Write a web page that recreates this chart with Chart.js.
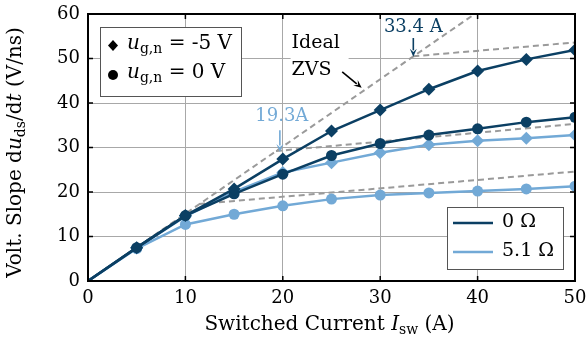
<!DOCTYPE html>
<html>
<head>
<meta charset="utf-8">
<script src="https://cdn.jsdelivr.net/npm/chart.js@4/dist/chart.umd.min.js"></script>
<style>
  html, body { margin: 0; padding: 0; background: #fff; }
  #wrap { width: 586px; height: 345px; }
</style>
</head>
<body>
<div id="wrap"><canvas id="c" width="586" height="345"></canvas></div>
<script>
// ---- data ----
const currents = [0, 5, 10, 15, 20, 25, 30, 35, 40, 45, 50];
const dark_m5V = [0, 7.5, 14.7, 20.7, 27.4, 33.7, 38.4, 43.1, 47.2, 49.8, 51.9];   // 0 Ohm, ug,n = -5 V
const dark_0V  = [0, 7.5, 14.7, 19.6, 24.0, 28.2, 30.9, 32.8, 34.2, 35.7, 36.8];   // 0 Ohm, ug,n = 0 V
const light_m5V = [0, 7.4, 14.5, 20.0, 24.4, 26.6, 28.8, 30.6, 31.5, 32.1, 32.8];  // 5.1 Ohm, -5 V
const light_0V  = [0, 7.3, 12.7, 15.0, 16.9, 18.4, 19.3, 19.8, 20.2, 20.7, 21.3];  // 5.1 Ohm, 0 V
const idealX = [0, 39.7];
const idealY = [0, 60];
const sat1X = [11.4, 50]; const sat1Y = [17.3, 24.6];
const sat2X = [19.3, 50]; const sat2Y = [29.2, 35.3];
const sat3X = [33.4, 50]; const sat3Y = [50.5, 53.6];
const xTicks = [0, 10, 20, 30, 40, 50];
const yTicks = [0, 10, 20, 30, 40, 50, 60];

const DARK = '#0b3f63';
const LIGHT = '#72a9d6';
const GRAY = '#9a9a9a';
const FONT = 'DejaVu Serif';
const FS = 18;

const pts = (xs, ys) => xs.map((x, i) => ({x: x, y: ys[i]}));
const radii = (r) => currents.map((c, i) => i === 0 ? 0 : r);

function dataLine(label, ys, color, style, r) {
  return {
    label, data: pts(currents, ys), borderColor: color, backgroundColor: color,
    borderWidth: 2.5, pointStyle: style, pointRadius: radii(r), pointBorderWidth: 0,
    pointHoverRadius: 0, tension: 0, fill: false
  };
}
function dashLine(xs, ys) {
  return {
    label: 'dash', data: pts(xs, ys), borderColor: GRAY, borderWidth: 2,
    borderDash: [6, 4], pointRadius: 0, tension: 0, fill: false
  };
}

function drawRuns(ctx, runs, x, y, align, fs) {
  fs = fs || FS;
  let total = 0;
  const sized = runs.map(r => {
    const size = r.sub ? Math.round(fs * 0.68) : fs;
    const font = (r.style === 'italic' ? 'italic ' : '') + size + 'px "' + FONT + '"';
    ctx.font = font;
    const w = ctx.measureText(r.t).width;
    total += w;
    return {t: r.t, font, w, dy: r.sub ? fs * 0.28 : 0};
  });
  let cx = align === 'center' ? x - total / 2 : x;
  ctx.textBaseline = 'middle';
  ctx.textAlign = 'left';
  sized.forEach(s => {
    ctx.font = s.font;
    ctx.fillText(s.t, cx, y + s.dy);
    cx += s.w;
  });
  return total;
}

function arrow(ctx, x1, y1, x2, y2, color) {
  const ang = Math.atan2(y2 - y1, x2 - x1);
  const hl = 8, hw = 3.5;
  ctx.save();
  ctx.strokeStyle = color; ctx.fillStyle = color; ctx.lineWidth = 1.6;
  ctx.beginPath();
  ctx.moveTo(x1, y1);
  ctx.lineTo(x2 - Math.cos(ang) * hl * 0.8, y2 - Math.sin(ang) * hl * 0.8);
  ctx.stroke();
  ctx.beginPath();
  ctx.moveTo(x2, y2);
  ctx.lineTo(x2 - Math.cos(ang) * hl - Math.sin(ang) * hw, y2 - Math.sin(ang) * hl + Math.cos(ang) * hw);
  ctx.lineTo(x2 - Math.cos(ang) * hl * 0.6, y2 - Math.sin(ang) * hl * 0.6);
  ctx.lineTo(x2 - Math.cos(ang) * hl + Math.sin(ang) * hw, y2 - Math.sin(ang) * hl - Math.cos(ang) * hw);
  ctx.closePath();
  ctx.fill();
  ctx.restore();
}

const decor = {
  id: 'decor',
  beforeDraw(chart) {
    const ctx = chart.ctx;
    ctx.save();
    ctx.fillStyle = '#fff';
    ctx.fillRect(0, 0, chart.width, chart.height);
    ctx.restore();
  },
  afterDatasetsDraw(chart) {
    const ctx = chart.ctx;
    const a = chart.chartArea;
    const xs = chart.scales.x, ys = chart.scales.y;
    const X = v => xs.getPixelForValue(v), Y = v => ys.getPixelForValue(v);
    ctx.save();
    // frame
    ctx.strokeStyle = '#000';
    ctx.lineWidth = 2;
    ctx.strokeRect(a.left, a.top, a.right - a.left, a.bottom - a.top);
    // inward ticks
    ctx.lineWidth = 1.5;
    xTicks.forEach(v => {
      const px = X(v);
      ctx.beginPath();
      ctx.moveTo(px, a.bottom); ctx.lineTo(px, a.bottom - 5);
      ctx.moveTo(px, a.top); ctx.lineTo(px, a.top + 5);
      ctx.stroke();
    });
    yTicks.forEach(v => {
      const py = Y(v);
      ctx.beginPath();
      ctx.moveTo(a.left, py); ctx.lineTo(a.left + 5, py);
      ctx.moveTo(a.right, py); ctx.lineTo(a.right - 5, py);
      ctx.stroke();
    });

    // ---- annotations ----
    ctx.fillStyle = '#fff';
    ctx.fillRect(X(20.8), Y(58.6), 58, 48);
    ctx.fillStyle = '#000';
    drawRuns(ctx, [{t: 'Ideal'}], X(20.9), Y(53.4), 'left', 19);
    drawRuns(ctx, [{t: 'ZVS'}], X(20.9), Y(47.4), 'left', 19);
    arrow(ctx, X(26.1), Y(47.0), X(28.1), Y(43.4), '#000');

    ctx.fillStyle = DARK;
    drawRuns(ctx, [{t: '33.4 A'}], X(33.4), Y(57.1), 'center');
    arrow(ctx, X(33.4), Y(54.6), X(33.4), Y(50.4), DARK);

    ctx.fillStyle = LIGHT;
    drawRuns(ctx, [{t: '19.3A'}], X(19.9), Y(36.9), 'center');
    arrow(ctx, X(19.7), Y(33.9), X(19.7), Y(29.0), LIGHT);

    // ---- legend 1 (gate voltage) ----
    ctx.fillStyle = '#fff';
    ctx.strokeStyle = '#555';
    ctx.lineWidth = 1;
    ctx.fillRect(100.5, 27.5, 141, 69);
    ctx.strokeRect(100.5, 27.5, 141, 69);
    ctx.fillStyle = '#000';
    ctx.beginPath();
    ctx.moveTo(113, 40); ctx.lineTo(118, 45.5); ctx.lineTo(113, 51); ctx.lineTo(108, 45.5); ctx.closePath();
    ctx.fill();
    ctx.beginPath();
    ctx.arc(113, 75, 5, 0, Math.PI * 2);
    ctx.fill();
    drawRuns(ctx, [{t: 'u', style: 'italic'}, {t: 'g,n', sub: true}, {t: ' = -5 V'}], 127, 44, 'left', 20);
    drawRuns(ctx, [{t: 'u', style: 'italic'}, {t: 'g,n', sub: true}, {t: ' = 0 V'}], 127, 73, 'left', 20);

    // ---- legend 2 (gate resistor) ----
    ctx.fillStyle = '#fff';
    ctx.strokeStyle = '#555';
    ctx.fillRect(447.5, 207.5, 116, 62);
    ctx.strokeRect(447.5, 207.5, 116, 62);
    ctx.lineWidth = 2.5;
    ctx.strokeStyle = DARK;
    ctx.beginPath(); ctx.moveTo(453, 223); ctx.lineTo(493, 223); ctx.stroke();
    ctx.strokeStyle = LIGHT;
    ctx.beginPath(); ctx.moveTo(453, 252); ctx.lineTo(493, 252); ctx.stroke();
    ctx.fillStyle = '#000';
    drawRuns(ctx, [{t: '0 Ω'}], 502, 222, 'left', 19);
    drawRuns(ctx, [{t: '5.1 Ω'}], 502, 251, 'left', 19);

    // ---- axis titles ----
    drawRuns(ctx, [{t: 'Switched Current '}, {t: 'I', style: 'italic'}, {t: 'sw', sub: true}, {t: ' (A)'}],
      (a.left + a.right) / 2 - 2, 325, 'center', 20);
    ctx.save();
    ctx.translate(16, (a.top + a.bottom) / 2 + 5);
    ctx.rotate(-Math.PI / 2);
    drawRuns(ctx, [{t: 'Volt. Slope d'}, {t: 'u', style: 'italic'}, {t: 'ds', sub: true}, {t: '/d'}, {t: 't', style: 'italic'}, {t: ' (V/ns)'}],
      0, 0, 'center', 20);
    ctx.restore();
    ctx.restore();
  }
};

new Chart(document.getElementById('c'), {
  type: 'line',
  data: {
    datasets: [
      dataLine('0 Ω, -5 V', dark_m5V, DARK, 'rectRot', 6.5),
      dataLine('0 Ω, 0 V', dark_0V, DARK, 'circle', 5.5),
      dataLine('5.1 Ω, -5 V', light_m5V, LIGHT, 'rectRot', 6.5),
      dataLine('5.1 Ω, 0 V', light_0V, LIGHT, 'circle', 5.5),
      dashLine(idealX, idealY),
      dashLine(sat1X, sat1Y),
      dashLine(sat2X, sat2Y),
      dashLine(sat3X, sat3Y)
    ]
  },
  options: {
    responsive: false,
    animation: false,
    devicePixelRatio: 1,
    layout: { padding: { top: 14, right: 11, left: 0, bottom: 0 } },
    plugins: { legend: { display: false }, tooltip: { enabled: false } },
    scales: {
      x: {
        type: 'linear', min: 0, max: 50,
        afterBuildTicks: s => { s.ticks = xTicks.map(v => ({value: v})); },
        afterFit: s => { s.height = 64; s.paddingLeft = 0; s.paddingRight = 0; },
        grid: { color: '#a8a8a8', lineWidth: 1, drawTicks: false },
        border: { display: false },
        ticks: { color: '#000', padding: 7, font: { family: FONT, size: FS } }
      },
      y: {
        type: 'linear', min: 0, max: 60,
        afterBuildTicks: s => { s.ticks = yTicks.map(v => ({value: v})); },
        afterFit: s => { s.width = 88; s.paddingTop = 0; s.paddingBottom = 0; },
        grid: { color: '#a8a8a8', lineWidth: 1, drawTicks: false },
        border: { display: false },
        ticks: { color: '#000', padding: 8, font: { family: FONT, size: FS } }
      }
    }
  },
  plugins: [decor]
});
</script>
</body>
</html>
